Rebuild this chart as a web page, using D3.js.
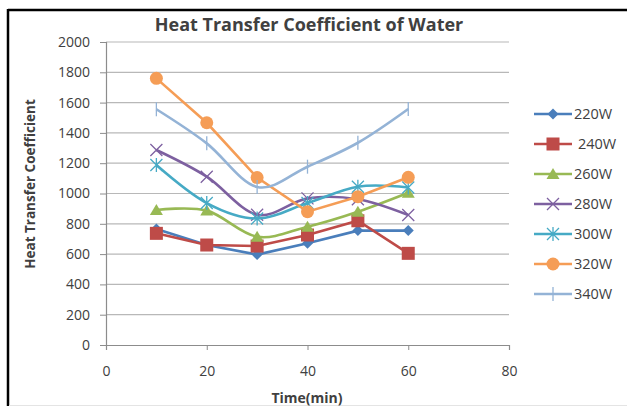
<!DOCTYPE html>
<html>
<head>
<meta charset="utf-8">
<script src="https://cdn.jsdelivr.net/npm/d3@7"></script>
<style>
  body { margin: 0; background: #fff; }
  text { font-family: "Open Sans", "Liberation Sans", sans-serif; fill: #404040; }
</style>
</head>
<body>
<svg width="627" height="408"></svg>
<script>
// data
var times = [10, 20, 30, 40, 50, 60];
var names = ["220W", "240W", "260W", "280W", "300W", "320W", "340W"];
var w220 = [765, 660, 597, 671, 755, 755];
var w240 = [737, 660, 653, 726, 820, 605];
var w260 = [891, 887, 715, 781, 880, 1005];
var w280 = [1287, 1111, 860, 968, 962, 858];
var w300 = [1188, 937, 835, 937, 1045, 1040];
var w320 = [1760, 1467, 1105, 880, 979, 1107];
var w340 = [1556, 1331, 1043, 1177, 1335, 1558];
var xTicks = [0, 20, 40, 60, 80];
var yTicks = [0, 200, 400, 600, 800, 1000, 1200, 1400, 1600, 1800, 2000];

var series = [w220, w240, w260, w280, w300, w320, w340];
var colors = ["#4a7ebb", "#be4b48", "#98b954", "#7d60a0", "#46aac5", "#f59d56", "#94b3d6"];
var symbols = ["diamond", "square", "triangle", "x", "star", "circle", "plus"];
var smooth = [false, false, true, true, true, false, true];

var svg = d3.select("svg");

// frame
svg.append("line").attr("x1", 8).attr("x2", 627).attr("y1", 10).attr("y2", 10)
  .attr("stroke", "#000").attr("stroke-width", 2.5);
svg.append("line").attr("x1", 8).attr("x2", 8).attr("y1", 9).attr("y2", 406)
  .attr("stroke", "#000").attr("stroke-width", 2.5);
svg.append("line").attr("x1", 9).attr("x2", 627).attr("y1", 405.5).attr("y2", 405.5)
  .attr("stroke", "#e4e4e4").attr("stroke-width", 1);

var x = d3.scaleLinear().domain([0, 80]).range([106, 509]);
var y = d3.scaleLinear().domain([0, 2000]).range([345, 42]);

// gridlines
svg.append("g").selectAll("line")
  .data(yTicks.slice(1))
  .enter().append("line")
  .attr("x1", x(0)).attr("x2", x(80))
  .attr("y1", d => y(d)).attr("y2", d => y(d))
  .attr("stroke", "#b8b8b8").attr("stroke-width", 1.2);

var yAxis = svg.append("g")
  .attr("transform", "translate(" + x(0) + ",0)")
  .call(d3.axisLeft(y).tickValues(yTicks).tickFormat(d3.format("d")).tickSize(6).tickPadding(10));
var xAxis = svg.append("g")
  .attr("transform", "translate(0," + y(0) + ")")
  .call(d3.axisBottom(x).tickValues(xTicks).tickFormat(d3.format("d")).tickSize(5).tickPadding(16));

[yAxis, xAxis].forEach(function(a) {
  a.select(".domain").attr("stroke", "#8c8c8c").attr("stroke-width", 1.2);
  a.selectAll(".tick line").attr("stroke", "#8c8c8c");
  a.selectAll("text").style("font-size", "14px").attr("fill", "#404040");
});

// titles
svg.append("text").attr("x", 309).attr("y", 31).attr("text-anchor", "middle")
  .style("font-size", "18px").style("font-weight", "bold").attr("fill", "#1a1a1a")
  .text("Heat Transfer Coefficient of Water");
svg.append("text").attr("transform", "translate(35,184) rotate(-90)")
  .attr("text-anchor", "middle").style("font-size", "13.5px").style("font-weight", "bold")
  .attr("fill", "#1a1a1a")
  .text("Heat Transfer Coefficient");
svg.append("text").attr("x", 307).attr("y", 403).attr("text-anchor", "middle")
  .style("font-size", "14px").style("font-weight", "bold").attr("fill", "#1a1a1a")
  .text("Time(min)");

function marker(g, kind, color) {
  if (kind == "diamond")
    g.append("path").attr("d", "M0,-5.5L5.5,0L0,5.5L-5.5,0Z").attr("fill", color);
  else if (kind == "square")
    g.append("rect").attr("x", -6.5).attr("y", -6.5).attr("width", 13).attr("height", 13).attr("fill", color);
  else if (kind == "triangle")
    g.append("path").attr("d", "M0,-6L6.5,5L-6.5,5Z").attr("fill", color);
  else if (kind == "circle")
    g.append("circle").attr("r", 6.5).attr("fill", color);
  else if (kind == "x")
    g.append("path").attr("d", "M-6,-6L6,6M-6,6L6,-6").attr("stroke", color).attr("stroke-width", 1.3);
  else if (kind == "star")
    g.append("path").attr("d", "M-6,-6L6,6M-6,6L6,-6M0,-7L0,7").attr("stroke", color).attr("stroke-width", 1.3);
  else if (kind == "plus")
    g.append("path").attr("d", "M0,-7L0,7").attr("stroke", color).attr("stroke-width", 1.3);
}

series.forEach(function(vals, i) {
  var pts = vals.map(function(v, j) { return [times[j], v]; });
  var line = d3.line()
    .x(d => x(d[0])).y(d => y(d[1]))
    .curve(smooth[i] ? d3.curveCardinal.tension(0) : d3.curveLinear);
  svg.append("path").datum(pts)
    .attr("d", line)
    .attr("fill", "none")
    .attr("stroke", colors[i])
    .attr("stroke-width", 2.6);
  pts.forEach(function(p) {
    var g = svg.append("g").attr("transform", "translate(" + x(p[0]) + "," + y(p[1]) + ")");
    marker(g, symbols[i], colors[i]);
  });
});

// legend
var legend = svg.append("g");
names.forEach(function(n, i) {
  var ly = 114 + i * 30;
  legend.append("line").attr("x1", 534).attr("x2", 572).attr("y1", ly).attr("y2", ly)
    .attr("stroke", colors[i]).attr("stroke-width", 2.6);
  var g = legend.append("g").attr("transform", "translate(553," + ly + ")");
  marker(g, symbols[i], colors[i]);
  legend.append("text").attr("x", i == 1 ? 578 : 574).attr("y", ly + 5)
    .style("font-size", "14.5px").attr("fill", "#404040").text(n);
});
</script>
</body>
</html>
